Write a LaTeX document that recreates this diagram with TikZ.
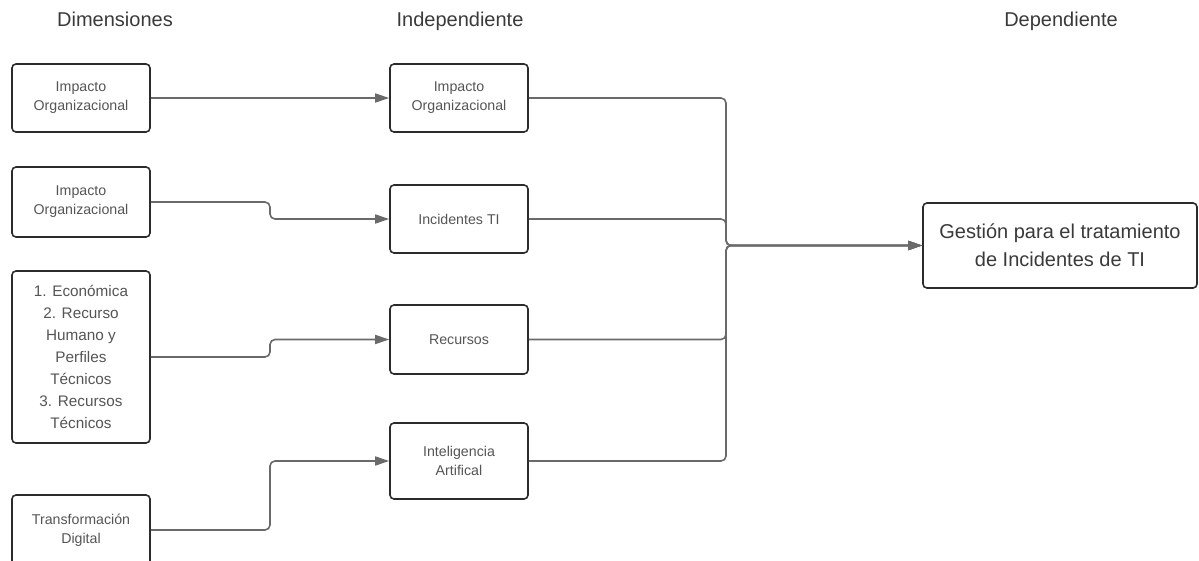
\documentclass[tikz,border=0pt]{standalone}
\usepackage{fontspec}
\setmainfont{Liberation Sans}
\usetikzlibrary{arrows.meta}
\definecolor{borde}{HTML}{2B2B2B}
\definecolor{cable}{HTML}{6A6A6A}
\definecolor{letra}{HTML}{555555}
\definecolor{titulos}{HTML}{3A3A3A}
\def\xdim{81}
\def\xind{459}
\def\xbus{726}
\def\xquiebre{270}

\begin{document}
\begin{tikzpicture}[x=1pt,y=-1pt,
  caja/.style={draw=borde, line width=1.6pt, rounded corners=4pt, fill=white,
    minimum width=138pt, minimum height=68pt, align=center, text=letra,
    inner sep=0pt, font=\fontsize{14.2}{19}\selectfont},
  titulo/.style={text=titulos, anchor=base, font=\fontsize{20}{22}\selectfont},
  flecha/.style={draw=cable, line width=1.6pt, rounded corners=5pt,
    -{Triangle[length=14pt,width=9pt]}}]

\useasboundingbox (0,0) rectangle (1199,561);

%column titles
\node[titulo] (tdim) at (\xdim+34,27) {Dimensiones};
\node[titulo] (tind) at (\xind+1,27) {Independiente};
\node[titulo] (tdep) at (1061,27) {Dependiente};

%left column: dimensiones
\node[caja] (dimA) at (\xdim,98) {Impacto\\Organizacional};
\node[caja, minimum height=70pt] (dimB) at (\xdim,202) {Impacto\\Organizacional};
\node[caja, minimum height=172pt, font=\fontsize{15.3}{22}\selectfont] (dimC) at (\xdim,357)
  {1. Económica\\ 2. Recurso\\Humano y\\Perfiles\\Técnicos\\ 3. Recursos\\Técnicos};
\node[caja, minimum height=70pt] (dimD) at (\xdim,530) {Transformación\\Digital};

%middle column: independiente
\node[caja] (indA) at (\xind,98) {Impacto\\Organizacional};
\node[caja] (indB) at (\xind,219) {Incidentes TI};
\node[caja, minimum height=69pt] (indC) at (\xind,339.5) {Recursos};
\node[caja, minimum height=76pt] (indD) at (\xind,461) {Inteligencia\\Artifical};

%right: dependiente
\node[caja, minimum width=274pt, minimum height=85pt, text=titulos,
  font=\fontsize{20}{28}\selectfont] (gestion) at (1060,245.5)
  {Gestión para el tratamiento\\de Incidentes de TI};

\coordinate (quiebre) at (\xquiebre,0);
\coordinate (bus) at (\xbus,245.5);

%dimensiones -> independiente
\draw[flecha] (dimA.east) -- (indA.west);
\foreach \d/\i in {dimB/indB,dimC/indC,dimD/indD}{
    \draw[flecha] (\d.east) -- (\d.east -| quiebre) -- (\i.west -| quiebre) -- (\i.west);
}

%independiente -> dependiente
\foreach \i in {indA,indB,indC,indD}{
    \draw[flecha] (\i.east) -- (\i.east -| bus) -- (bus) -- (gestion.west);
}

\end{tikzpicture}
\end{document}
